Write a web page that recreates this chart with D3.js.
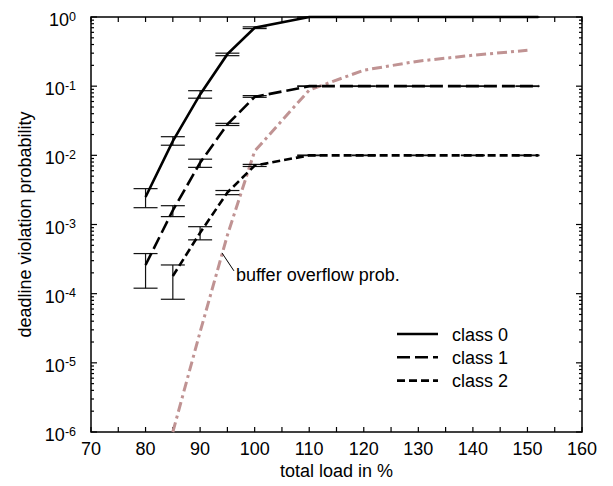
<!DOCTYPE html>
<html>
<head>
<meta charset="utf-8">
<script src="https://cdn.jsdelivr.net/npm/d3@7"></script>
<style>
body { margin: 0; background: #fff; }
text { font-family: "Liberation Sans", Arial, sans-serif; fill: #000; }
</style>
</head>
<body>
<svg width="613" height="486"></svg>
<script>
// values
const class0Load = [80, 85, 90, 95, 100, 110, 152];
const class0Prob = [2.5e-3, 1.6e-2, 7.6e-2, 0.29, 0.70, 1.0, 1.0];
const class1Load = [80, 85, 90, 95, 100, 110, 152];
const class1Prob = [2.6e-4, 1.6e-3, 7.8e-3, 2.8e-2, 7.0e-2, 0.1, 0.1];
const class2Load = [85, 90, 95, 100, 110, 152];
const class2Prob = [1.8e-4, 7.6e-4, 2.9e-3, 7.1e-3, 0.01, 0.01];
const bufferLoad = [85, 90, 95, 100, 110, 120, 130, 140, 150];
const bufferProb = [1e-6, 2.8e-5, 7e-4, 1.15e-2, 8.8e-2, 0.17, 0.23, 0.28, 0.33];

// error bars: [load, low, high]
const class0Err = [[80, 1.75e-3, 3.3e-3], [85, 1.4e-2, 1.86e-2], [90, 6.7e-2, 8.6e-2], [95, 0.276, 0.30], [100, 0.68, 0.72],
    [110, 0.99, 1.0], [120, 0.99, 1.0], [130, 0.99, 1.0], [140, 0.99, 1.0], [150, 0.99, 1.0]];
const class1Err = [[80, 1.2e-4, 3.8e-4], [85, 1.3e-3, 1.87e-3], [90, 6.7e-3, 8.8e-3], [95, 2.7e-2, 2.9e-2], [100, 6.9e-2, 7.3e-2],
    [110, 0.099, 0.101], [120, 0.099, 0.101], [130, 0.099, 0.101], [140, 0.099, 0.101], [150, 0.099, 0.101]];
const class2Err = [[85, 8.3e-5, 2.6e-4], [90, 6.0e-4, 9.3e-4], [95, 2.7e-3, 3.1e-3], [100, 6.9e-3, 7.4e-3],
    [110, 0.0099, 0.0101], [120, 0.0099, 0.0101], [130, 0.0099, 0.0101], [140, 0.0099, 0.0101], [150, 0.0099, 0.0101]];

const xTicks = [70, 80, 90, 100, 110, 120, 130, 140, 150, 160];
const yExps = [0, -1, -2, -3, -4, -5, -6];
const legendNames = ["class 0", "class 1", "class 2"];

const width = 613, height = 486;
const margin = {top: 17, right: 31, bottom: 54, left: 91};

const svg = d3.select("svg");

const x = d3.scaleLinear().domain([70, 160]).range([margin.left, width - margin.right]);
const y = d3.scaleLog().domain([1e-6, 1]).range([height - margin.bottom, margin.top]);

const styles = [
    {dash: null, width: 2.6},
    {dash: "13,5", width: 2.6},
    {dash: "8,4", width: 2.6}
];

// ticks, all pointing inward
const minorX = d3.range(75, 160, 10);
const ticks = svg.append("g").attr("stroke", "#000").attr("stroke-width", 1.2);
for (const v of xTicks.concat(minorX)) {
    ticks.append("line").attr("x1", x(v)).attr("x2", x(v))
        .attr("y1", y.range()[0]).attr("y2", y.range()[0] - 5);
    ticks.append("line").attr("x1", x(v)).attr("x2", x(v))
        .attr("y1", y.range()[1]).attr("y2", y.range()[1] + 5);
}
for (let e = -6; e <= 0; e++) {
    for (let m = 1; m <= 9; m++) {
        const v = m * Math.pow(10, e);
        if (v > 1) continue;
        const len = m === 1 ? 6 : 3;
        ticks.append("line").attr("x1", x.range()[0]).attr("x2", x.range()[0] + len)
            .attr("y1", y(v)).attr("y2", y(v));
        ticks.append("line").attr("x1", x.range()[1]).attr("x2", x.range()[1] - len)
            .attr("y1", y(v)).attr("y2", y(v));
    }
}

// frame
svg.append("rect")
    .attr("x", x.range()[0]).attr("y", y.range()[1])
    .attr("width", x.range()[1] - x.range()[0])
    .attr("height", y.range()[0] - y.range()[1])
    .attr("fill", "none").attr("stroke", "#000").attr("stroke-width", 1.5);

// tick labels
svg.append("g").selectAll("text").data(xTicks).join("text")
    .attr("x", d => x(d)).attr("y", y.range()[0] + 23)
    .attr("text-anchor", "middle").attr("font-size", 18)
    .text(d => d);

const yl = svg.append("g").selectAll("text").data(yExps).join("text")
    .attr("x", x.range()[0] - 15).attr("y", d => y(Math.pow(10, d)) + 9)
    .attr("text-anchor", "end").attr("font-size", 18);
yl.append("tspan").text("10");
yl.append("tspan").attr("font-size", 12.5).attr("dy", -5.5).text(d => d);

// axis titles
svg.append("text")
    .attr("x", (x.range()[0] + x.range()[1]) / 2).attr("y", height - 9)
    .attr("text-anchor", "middle").attr("font-size", 18)
    .text("total load in %");
svg.append("text")
    .attr("transform", `translate(31,${(y.range()[0] + y.range()[1]) / 2}) rotate(-90)`)
    .attr("text-anchor", "middle").attr("font-size", 18)
    .text("deadline violation probability");

const plot = svg.append("g");
const line = d3.line().x(d => x(d[0])).y(d => y(d[1]));

// buffer overflow curve
plot.append("path")
    .datum(d3.zip(bufferLoad, bufferProb))
    .attr("d", line)
    .attr("fill", "none").attr("stroke", "#c09393").attr("stroke-width", 3)
    .attr("stroke-dasharray", "10,4,3,4");

// error bars
const errs = [class0Err, class1Err, class2Err];
errs.forEach(err => {
    const g = plot.append("g").attr("stroke", "#111").attr("stroke-width", 1.2);
    g.selectAll(".v").data(err).join("line")
        .attr("x1", d => x(d[0])).attr("x2", d => x(d[0]))
        .attr("y1", d => y(d[1])).attr("y2", d => y(d[2]));
    g.selectAll(".lo").data(err).join("line").attr("class", "lo")
        .attr("x1", d => x(d[0]) - 12).attr("x2", d => x(d[0]) + 12)
        .attr("y1", d => y(d[1])).attr("y2", d => y(d[1]));
    g.selectAll(".hi").data(err).join("line").attr("class", "hi")
        .attr("x1", d => x(d[0]) - 12).attr("x2", d => x(d[0]) + 12)
        .attr("y1", d => y(d[2])).attr("y2", d => y(d[2]));
});

// class lines
const classes = [
    d3.zip(class0Load, class0Prob),
    d3.zip(class1Load, class1Prob),
    d3.zip(class2Load, class2Prob)
];
classes.forEach((c, i) => {
    plot.append("path").datum(c).attr("d", line)
        .attr("fill", "none").attr("stroke", "#000")
        .attr("stroke-width", styles[i].width)
        .attr("stroke-dasharray", styles[i].dash);
});

// annotation
const ax = x(94), ay = y(Math.pow(10, -3.41));
svg.append("line")
    .attr("x1", ax).attr("y1", ay).attr("x2", ax + 12).attr("y2", ay + 18)
    .attr("stroke", "#000").attr("stroke-width", 1);
svg.append("text")
    .attr("x", ax + 14).attr("y", ay + 28).attr("font-size", 18)
    .text("buffer overflow prob.");

// legend
const leg = svg.append("g");
legendNames.forEach((name, i) => {
    const ly = 334 + i * 23.3;
    leg.append("line").attr("x1", 397).attr("x2", 438).attr("y1", ly).attr("y2", ly)
        .attr("stroke", "#000").attr("stroke-width", styles[i].width)
        .attr("stroke-dasharray", styles[i].dash);
    leg.append("text").attr("x", 452).attr("y", ly + 6.5).attr("font-size", 18).text(name);
});
</script>
</body>
</html>
